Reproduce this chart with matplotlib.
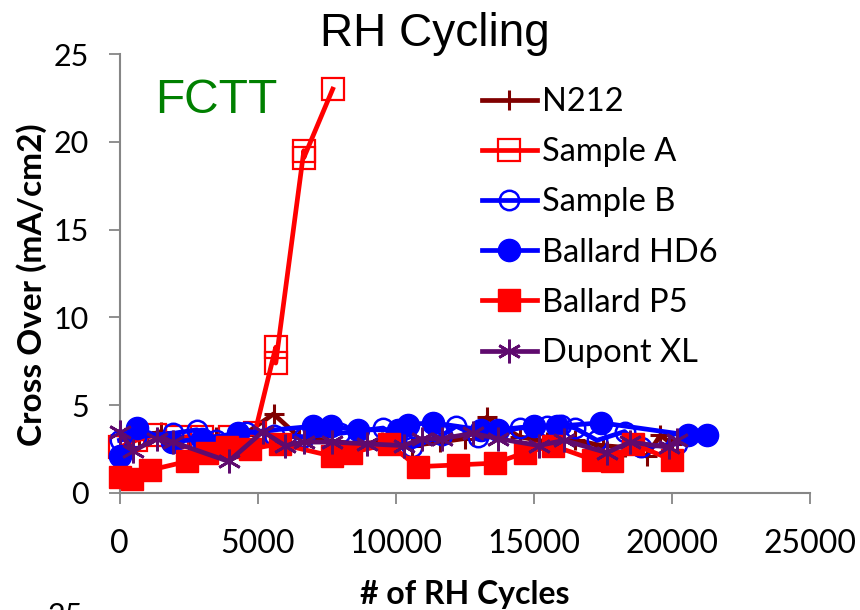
import matplotlib
matplotlib.use('Agg')
from matplotlib import pyplot as plt

# data
n212_x = [0, 700, 1500, 2500, 3500, 4500, 5580, 6500, 7500, 8500, 9500, 10600,
          11600, 12500, 13300, 14500, 15500, 16500, 17500, 18300, 19100, 19600, 20000]
n212_y = [3.3, 3.1, 3.5, 3.0, 3.2, 3.3, 4.5, 3.2, 3.0, 2.8, 2.9, 2.7,
          2.9, 3.1, 4.3, 3.2, 2.9, 3.0, 2.7, 2.6, 2.1, 3.3, 2.8]

sampleA_x = [0, 600, 1300, 2100, 3000, 4000, 4900, 5660, 5660, 6680, 6680, 7725]
sampleA_y = [2.6, 3.0, 3.3, 3.2, 3.2, 3.2, 3.4, 8.3, 7.4, 19.5, 19.1, 23.0]

sampleB_x = [0, 600, 1950, 2800, 3500, 4600, 5600, 6700, 8000, 9550, 10600,
             11700, 12200, 13000, 14500, 15500, 16000, 16500, 17300, 18300, 18900, 20200]
sampleB_y = [3.0, 3.2, 3.4, 3.6, 3.0, 3.5, 3.3, 3.2, 3.4, 3.7, 2.6,
             3.3, 3.8, 3.2, 3.7, 3.8, 3.9, 3.7, 3.0, 3.5, 2.6, 2.8]

hd6_x = [0, 650, 1900, 3000, 4300, 7000, 7650, 8650, 10100, 10450, 11350,
         13100, 13700, 15000, 15850, 17450, 20600, 21300]
hd6_y = [2.1, 3.7, 2.9, 3.1, 3.4, 3.8, 3.8, 3.6, 3.6, 3.9, 4.0,
         3.6, 3.6, 3.8, 3.8, 4.0, 3.3, 3.3]

p5_x = [0, 450, 1100, 2450, 3170, 3900, 4730, 5800, 7700, 8400, 9750, 10800,
        12250, 13600, 14700, 15700, 17150, 17850, 18600, 20000]
p5_y = [0.9, 0.8, 1.3, 1.8, 2.3, 2.6, 2.5, 2.8, 2.1, 2.3, 2.8, 1.5,
        1.6, 1.7, 2.3, 2.7, 1.9, 1.8, 2.8, 1.9]

xl_x = [0, 500, 1350, 1950, 3950, 5200, 6000, 6700, 7700, 8950, 10300, 10950,
        11700, 12800, 13700, 15200, 16100, 17650, 18500, 19900, 20200]
xl_y = [3.5, 2.4, 3.1, 2.9, 1.8, 3.5, 2.7, 2.9, 2.9, 2.8, 2.7, 3.1,
        3.1, 3.4, 3.1, 2.7, 3.0, 2.3, 2.9, 2.6, 3.0]

x_ticks = [0, 5000, 10000, 15000, 20000, 25000]
y_ticks = [0, 5, 10, 15, 20, 25]

axis_grey = '#868686'
purple = '#5F0A6E'

fig = plt.figure(figsize=(8.6, 6.1), dpi=100)
ax = fig.add_axes([119.5 / 860, 1 - 493 / 610, 690 / 860, 439 / 610])

lw = 3.4
ax.plot(n212_x, n212_y, color='#800000', lw=lw, marker='+', ms=15, mew=2.2,
        label='N212', clip_on=False, zorder=3)
ax.plot(sampleA_x, sampleA_y, color='red', lw=lw, marker='s', ms=16, mew=1.6,
        mfc='none', label='Sample A', clip_on=False, zorder=4)
ax.plot(sampleB_x, sampleB_y, color='blue', lw=lw, marker='o', ms=14, mew=1.8,
        mfc='none', label='Sample B', clip_on=False, zorder=5)
ax.plot(hd6_x, hd6_y, color='blue', lw=lw, marker='o', ms=16,
        label='Ballard HD6', clip_on=False, zorder=6)
ax.plot(p5_x, p5_y, color='red', lw=lw, marker='s', ms=16,
        label='Ballard P5', clip_on=False, zorder=7)
ax.plot(xl_x, xl_y, color=purple, lw=lw, marker=(6, 2, 0), ms=17, mew=2.0,
        label='Dupont XL', clip_on=False, zorder=8)

ax.set_xlim(0, 25000)
ax.set_ylim(0, 25)
ax.set_xticks(x_ticks)
ax.set_yticks(y_ticks)
ax.set_xticklabels([str(t) for t in x_ticks], fontfamily='Lato', fontsize=23)
ax.set_yticklabels([str(t) for t in y_ticks], fontfamily='Lato', fontsize=22)
ax.tick_params(direction='out', length=8, width=1.3, color=axis_grey, pad=14)
ax.tick_params(axis='x', pad=18)

for side in ['top', 'right']:
    ax.spines[side].set_visible(False)
for side in ['left', 'bottom']:
    ax.spines[side].set_color(axis_grey)
    ax.spines[side].set_linewidth(1.5)

ax.set_ylabel('Cross Over (mA/cm2)', fontfamily='Lato', fontweight='bold',
              fontsize=24)
ax.yaxis.set_label_coords(-0.105, 0.475)
ax.set_xlabel('# of RH Cycles', fontfamily='Lato', fontweight='bold',
              fontsize=23)
ax.xaxis.set_label_coords(0.5, -0.198)

fig.text(0.506, 0.944, 'RH Cycling', fontfamily='Liberation Sans', fontsize=33,
         ha='center', va='center')
ax.text(0.051, 0.893, 'FCTT', transform=ax.transAxes, color='green',
        fontfamily='Liberation Sans', fontsize=34.5, ha='left', va='center')

leg = ax.legend(loc='upper left', bbox_to_anchor=(0.525, 0.925), frameon=False,
                prop={'family': 'Lato', 'size': 23.5}, handlelength=1.7,
                handletextpad=0.15, labelspacing=0.62, borderaxespad=0,
                borderpad=0)

# top of the next chart's axis label peeking in at the bottom edge
fig.text(83 / 860, 1 - 602 / 610, '25', fontfamily='Lato', fontsize=22,
         ha='right', va='top')

plt.savefig('out.png', dpi=100)
